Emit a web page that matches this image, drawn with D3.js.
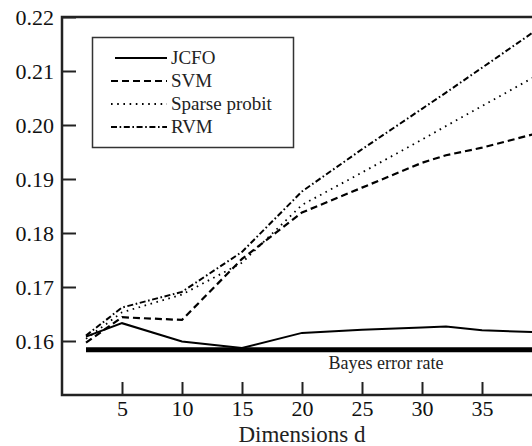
<!DOCTYPE html>
<html>
<head>
<meta charset="utf-8">
<script src="https://cdn.jsdelivr.net/npm/d3@7"></script>
<style>
  body { margin: 0; background: #fff; }
  svg { display: block; }
  svg text { font-family: "Liberation Serif", "Times New Roman", Times, serif; }
</style>
</head>
<body>
<script>
// values
var dims   = [2, 5, 10, 15, 20, 25, 30, 32, 35, 40];
var jcfo   = [0.1608, 0.1633, 0.1599, 0.1587, 0.1615, 0.1621, 0.1625, 0.1627, 0.1620, 0.1616];
var svm    = [0.1597, 0.1644, 0.1639, 0.1752, 0.1838, 0.1884, 0.1930, 0.1944, 0.1958, 0.1987];
var sparse = [0.1604, 0.1653, 0.1686, 0.1745, 0.1852, 0.1912, 0.1973, 0.1998, 0.2035, 0.2097];
var rvm    = [0.1610, 0.1662, 0.1691, 0.1765, 0.1877, 0.1955, 0.2030, 0.2060, 0.2106, 0.2183];
var bayes  = 0.1584;
var xTicks = [5, 10, 15, 20, 25, 30, 35];
var yTicks = [0.16, 0.17, 0.18, 0.19, 0.20, 0.21, 0.22];

var series = [
  {name: "JCFO", values: jcfo, dash: null, width: 2},
  {name: "SVM", values: svm, dash: "7,4", width: 2.2},
  {name: "Sparse probit", values: sparse, dash: "1.6,4.6", width: 1.8},
  {name: "RVM", values: rvm, dash: "6,2.6,1.6,2.6", width: 2}
];

var width = 532, height = 446;

var svg = d3.select("body").append("svg")
    .attr("width", width)
    .attr("height", height);

var x = d3.scaleLinear().domain([0, 40]).range([62, 542]);
var y = d3.scaleLinear().domain([0.15, 0.22]).range([395, 17]);

function styleAxis(g) {
  g.select(".domain").remove();
  g.attr("font-family", null);
  g.selectAll(".tick line").attr("stroke", "#222").attr("stroke-width", 2);
  g.selectAll(".tick text").attr("fill", "#111").style("font-size", "22px");
}

// axes, ticks pointing inward
svg.append("g")
    .attr("transform", "translate(" + x(0) + ",0)")
    .call(d3.axisLeft(y).tickValues(yTicks).tickFormat(d3.format(".2f"))
      .tickSizeInner(-14).tickSizeOuter(0).tickPadding(8))
    .call(styleAxis);

svg.append("g")
    .attr("transform", "translate(0," + y(0.15) + ")")
    .call(d3.axisBottom(x).tickValues(xTicks).tickSizeInner(-13).tickSizeOuter(0).tickPadding(5.5))
    .call(styleAxis);

// frame
svg.append("path")
    .attr("d", "M" + x(40) + "," + y(0.22) + "H" + x(0) + "V" + y(0.15) + "H" + x(40))
    .attr("fill", "none")
    .attr("stroke", "#222")
    .attr("stroke-width", 2.5);

// bayes error rate
svg.append("line")
    .attr("x1", x(2)).attr("x2", x(40))
    .attr("y1", y(bayes)).attr("y2", y(bayes))
    .attr("stroke", "#000")
    .attr("stroke-width", 5);

svg.append("text")
    .attr("x", x(27)).attr("y", y(bayes) + 19)
    .attr("text-anchor", "middle")
    .style("font-size", "18px")
    .attr("fill", "#222")
    .text("Bayes error rate");

var line = d3.line()
    .x(function(d, i) { return x(dims[i]); })
    .y(function(d) { return y(d); });

svg.selectAll(".series")
    .data(series)
  .enter().append("path")
    .attr("class", "series")
    .attr("d", function(d) { return line(d.values); })
    .attr("fill", "none")
    .attr("stroke", "#000")
    .attr("stroke-width", function(d) { return d.width; })
    .attr("stroke-dasharray", function(d) { return d.dash; });

// legend
var legend = svg.append("g");

legend.append("rect")
    .attr("x", 92.5).attr("y", 37.5)
    .attr("width", 201).attr("height", 110)
    .attr("fill", "#fff")
    .attr("stroke", "#333")
    .attr("stroke-width", 1.5);

var items = legend.selectAll(".item")
    .data(series)
  .enter().append("g")
    .attr("class", "item")
    .attr("transform", function(d, i) { return "translate(0," + (58 + i * 23) + ")"; });

items.append("line")
    .attr("x1", function(d) { return d.dash === null ? 115 : 111; })
    .attr("x2", 167)
    .attr("stroke", "#000")
    .attr("stroke-width", function(d) { return d.width; })
    .attr("stroke-dasharray", function(d) { return d.dash; });

items.append("text")
    .attr("x", 171)
    .attr("dy", "0.33em")
    .style("font-size", "19px")
    .attr("fill", "#222")
    .text(function(d) { return d.name; });

svg.append("text")
    .attr("x", x(20)).attr("y", 441.5)
    .attr("text-anchor", "middle")
    .style("font-size", "23px")
    .attr("fill", "#222")
    .text("Dimensions d");
</script>
</body>
</html>
